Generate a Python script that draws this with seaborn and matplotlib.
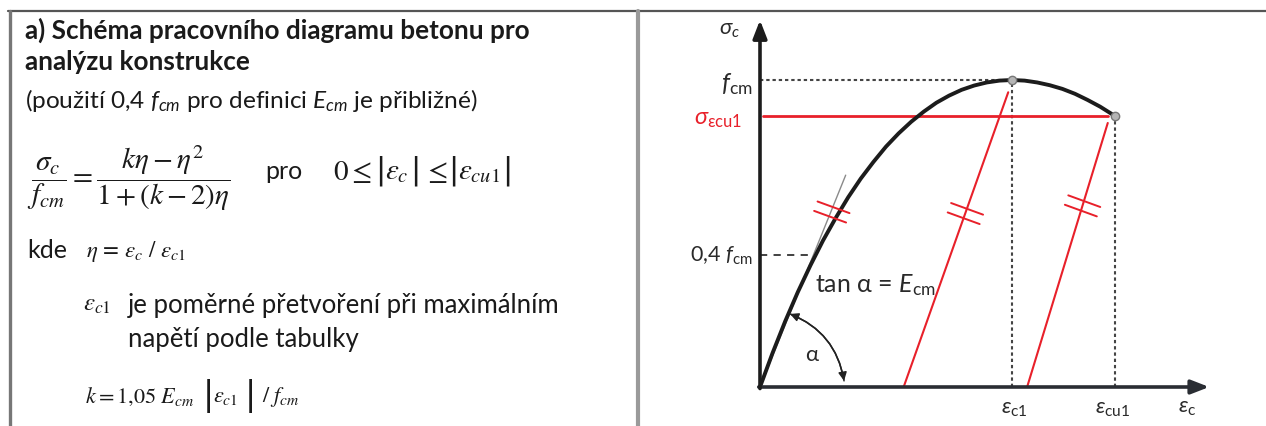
import numpy as np
import matplotlib
matplotlib.use('Agg')
import matplotlib.pyplot as plt
import seaborn as sns
from matplotlib.lines import Line2D
from matplotlib.patches import FancyArrowPatch

# --- values (strain with eps_c1 = 2, stress as sigma / f_cm)
eps = [0.0, 0.1, 0.2, 0.3, 0.4, 0.5, 0.6, 0.7, 0.8, 0.9, 1.0, 1.1, 1.2, 1.3, 1.4,
       1.5, 1.6, 1.7, 1.8, 1.9, 2.0, 2.1, 2.2, 2.3, 2.4, 2.5, 2.6, 2.7, 2.82]
sig = [0.0, 0.111, 0.214, 0.309, 0.396, 0.477, 0.55, 0.618, 0.679, 0.733, 0.783,
       0.826, 0.864, 0.897, 0.926, 0.949, 0.968, 0.982, 0.992, 0.998, 1.0, 0.998,
       0.992, 0.983, 0.971, 0.955, 0.935, 0.913, 0.882]
eps_c1 = 2.0
eps_cu1 = 2.82
f_cm = 1.0
sig_cu1 = 0.882
f04 = 0.43
eps04 = 0.42
tangent_x = [0.0, 0.68]
tangent_y = [0.0, 0.69]
red_bot_x = [1.14, 2.12]
red_top_x = [1.97, 2.76]
red_top_y = [0.96, 0.86]
hatch_x = [0.57, 1.63, 2.56]
hatch_y = [0.57, 0.565, 0.59]

W, H = 1266, 427
sns.set_theme(style='white')
plt.rcParams['font.family'] = ['Lato', 'DejaVu Sans']
plt.rcParams['mathtext.fontset'] = 'custom'
plt.rcParams['mathtext.rm'] = 'Lato'
plt.rcParams['mathtext.it'] = 'Lato:italic'
plt.rcParams['mathtext.bf'] = 'Lato:bold'

fig = plt.figure(figsize=(W / 100, H / 100), dpi=100)
fig.patch.set_facecolor('white')


def fx(x):
    return x / W


def fy(y):
    return 1 - y / H


# frame of the table
frame = dict(transform=fig.transFigure)
fig.add_artist(Line2D([fx(8), 1], [fy(12), fy(12)], color='#555555', lw=1.6, **frame))
fig.add_artist(Line2D([fx(9.5), fx(9.5)], [fy(12), 0], color='#777777', lw=2.4, **frame))
fig.add_artist(Line2D([fx(638), fx(638)], [fy(12), 0], color='#9a9a9a', lw=3.0, **frame))

# --- left panel text
txt = '#1a1a1a'
fig.text(fx(25), fy(30), 'a) Schéma pracovního diagramu betonu pro', fontsize=18.8,
         fontweight='bold', va='center', color=txt)
fig.text(fx(25), fy(62), 'analýzu konstrukce', fontsize=18.8, fontweight='bold',
         va='center', color=txt)
fig.text(fx(25), fy(101), r'(použití 0,4 $f_{cm}$ pro definici $E_{cm}$ je přibližné)',
         fontsize=17.6, va='center', color=txt, math_fontfamily='custom')
fig.text(fx(27), fy(178), r'$\dfrac{\sigma_c}{f_{cm}} = \dfrac{k\eta - \eta^2}{1+(k-2)\eta}$',
         fontsize=21, va='center', math_fontfamily='stix', color=txt)
fig.text(fx(265), fy(172), 'pro', fontsize=18, va='center', color=txt)

# 0 <= |eps_c| <= |eps_cu1|, bars set as separate glyphs so they stay tall
math = dict(va='center', math_fontfamily='stix', color=txt)
bar = dict(fontsize=22, va='center', family='DejaVu Sans', color=txt)
fig.text(fx(333), fy(172), r'$0 \leq$', fontsize=21, **math)
fig.text(fx(375), fy(171), '|', **bar)
fig.text(fx(385), fy(172), r'$\varepsilon_c$', fontsize=21, **math)
fig.text(fx(410), fy(171), '|', **bar)
fig.text(fx(423), fy(172), r'$\leq$', fontsize=21, **math)
fig.text(fx(448), fy(171), '|', **bar)
fig.text(fx(458), fy(172), r'$\varepsilon_{cu1}$', fontsize=21, **math)
fig.text(fx(502), fy(171), '|', **bar)

fig.text(fx(27), fy(250), 'kde', fontsize=18, va='center', color=txt)
fig.text(fx(86), fy(252), r'$\eta\, =\, \varepsilon_c\ /\ \varepsilon_{c1}$',
         fontsize=16.5, **math)
fig.text(fx(83), fy(305), r'$\varepsilon_{c1}$', fontsize=18, **math)
fig.text(fx(128), fy(305), 'je poměrné přetvoření při maximálním', fontsize=18.5,
         va='center', color=txt)
fig.text(fx(128), fy(340), 'napětí podle tabulky', fontsize=18.5, va='center', color=txt)
fig.text(fx(85), fy(397), r'$k = 1{,}05\ E_{cm}$', fontsize=16, **math)
fig.text(fx(203), fy(396), '|', fontsize=24, va='center', family='DejaVu Sans', color=txt)
fig.text(fx(213), fy(397), r'$\varepsilon_{c1}$', fontsize=16, **math)
fig.text(fx(245), fy(396), '|', fontsize=24, va='center', family='DejaVu Sans', color=txt)
fig.text(fx(262), fy(397), r'$/\ f_{cm}$', fontsize=16, **math)

# --- diagram axes, placed so that the origin sits where it is in the picture
ox, oy, ux, uy = 760, 388, 126, 307
xlim = (-0.6, 3.7)
ylim = (-0.12, 1.2)
left = ox + xlim[0] * ux
right = ox + xlim[1] * ux
top = oy - ylim[1] * uy
bottom = oy - ylim[0] * uy
ax = fig.add_axes([fx(left), fy(bottom), (right - left) / W, (bottom - top) / H])
ax.set_xlim(*xlim)
ax.set_ylim(*ylim)
ax.axis('off')

dark = '#1c1c1c'
red = '#e8202a'
dot = '#444444'

# helper lines
ax.plot([0, eps_c1], [f_cm, f_cm], color=dot, lw=1.5, ls=(0, (1.6, 1.4)))
ax.plot([eps_c1, eps_c1], [0, f_cm], color=dot, lw=1.5, ls=(0, (1.6, 1.4)))
ax.plot([eps_cu1, eps_cu1], [0, sig_cu1], color=dot, lw=1.5, ls=(0, (1.6, 1.4)))
ax.plot([0, eps04], [f04, f04], color='#333333', lw=1.3, ls=(0, (4, 3.5)))
ax.plot([0.02, eps_cu1 - 0.06], [sig_cu1, sig_cu1], color=red, lw=2.0)
for xb, xt, yt in zip(red_bot_x, red_top_x, red_top_y):
    ax.plot([xb, xt], [0, yt], color=red, lw=1.5)
ax.plot(tangent_x, tangent_y, color='#8a8a8a', lw=1.0)

# the curve itself
sns.lineplot(x=eps, y=sig, ax=ax, color=dark, lw=2.8, estimator=None, sort=False)
ax.plot([eps_c1, eps_cu1], [f_cm, sig_cu1], ls='none', marker='o', ms=6,
        mfc='#b5b5b5', mec='#777777', mew=1)

# axes with arrows
ax.annotate('', xy=(3.565, 0), xytext=(-0.01, 0),
            arrowprops=dict(arrowstyle='-|>,head_length=0.9,head_width=0.35',
                            color='#2a2d33', lw=2.6, shrinkA=0, shrinkB=0))
ax.annotate('', xy=(0, 1.195), xytext=(0, -0.005),
            arrowprops=dict(arrowstyle='-|>,head_length=0.9,head_width=0.35',
                            color='#1c1c1c', lw=2.6, shrinkA=0, shrinkB=0))

# hatch marks (double slashes) on the parallel lines
fig.canvas.draw()
for hx, hy in zip(hatch_x, hatch_y):
    cx, cy = ax.transData.transform((hx, hy))
    ang = np.deg2rad(-20)
    d = np.array([np.cos(ang), np.sin(ang)])
    n = np.array([-d[1], d[0]])
    for off in (-5, 5):
        p0 = np.array([cx, cy]) + n * off - d * 17
        p1 = np.array([cx, cy]) + n * off + d * 17
        q = ax.transData.inverted().transform([p0, p1])
        ax.plot(q[:, 0], q[:, 1], color=red, lw=1.4)

# angle alpha
for a, b, r in [((0.238, 0.238), (0.667, 0.02), -0.28), ((0.667, 0.02), (0.238, 0.238), 0.28)]:
    ax.add_patch(FancyArrowPatch(a, b, connectionstyle=f'arc3,rad={r}',
                                 arrowstyle='-|>,head_length=5,head_width=2.5',
                                 color='#222222', lw=1.1, shrinkA=0, shrinkB=0))

# labels
lab = dict(color='#2a2a2a', clip_on=False, math_fontfamily='custom')
ax.text(-0.24, 1.166, r'$\sigma_c$', fontsize=16, ha='center', va='center', **lab)
ax.text(-0.06, 0.99, r'$f_{\mathregular{cm}}$', fontsize=18, ha='right', va='center', **lab)
ax.text(-0.14, 0.875, r'$\sigma_{\mathregular{\varepsilon cu1}}$', fontsize=17, ha='right',
        va='center', color=red, clip_on=False, math_fontfamily='custom')
ax.text(-0.06, 0.43, r'0,4 $f_{\mathregular{cm}}$', fontsize=15.5, ha='right', va='center', **lab)
ax.text(0.44, 0.335, r'tan α = $E_{\mathregular{cm}}$', fontsize=18, ha='left', va='center', **lab)
ax.text(0.413, 0.107, 'α', fontsize=16, ha='center', va='center', **lab)
ax.text(eps_c1 + 0.02, -0.068, r'$\varepsilon_{\mathregular{c1}}$', fontsize=16, ha='center',
        va='center', **lab)
ax.text(eps_cu1 - 0.02, -0.068, r'$\varepsilon_{\mathregular{cu1}}$', fontsize=16,
        ha='center', va='center', **lab)
ax.text(3.39, -0.064, r'$\varepsilon_{\mathregular{c}}$', fontsize=16, ha='center',
        va='center', **lab)

fig.savefig('out.png', dpi=100, facecolor='white')
